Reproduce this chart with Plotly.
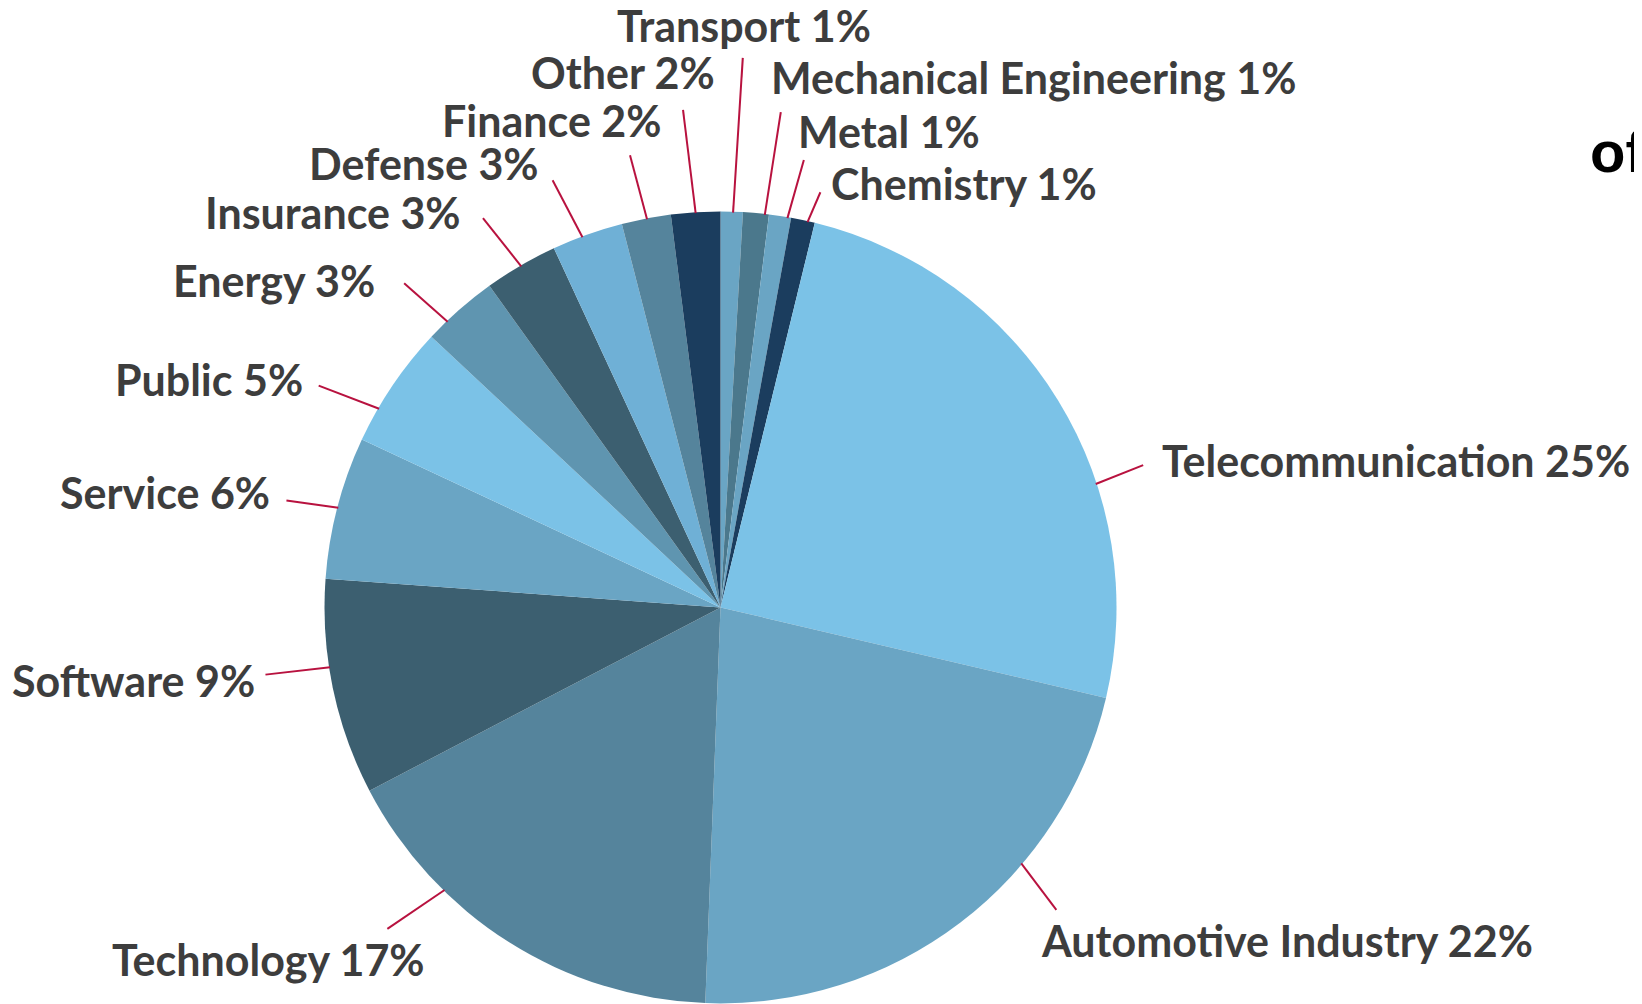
import math
import plotly.graph_objects as go

# slices, clockwise from 12 o'clock
labels = [
    "Transport", "Mechanical Engineering", "Metal", "Chemistry",
    "Telecommunication", "Automotive Industry", "Technology", "Software",
    "Service", "Public", "Energy", "Insurance", "Defense", "Finance", "Other",
]
shares = [0.9, 1.05, 0.9, 0.97, 24.8, 21.9, 16.7, 8.8, 5.8, 5.0, 3.1, 3.0, 2.9, 2.0, 2.0]
shown_pct = [1, 1, 1, 1, 25, 22, 17, 9, 6, 5, 3, 3, 3, 2, 2]

colors = [
    "#6aa5c4", "#4b788c", "#6aa5c4", "#1b3d5e", "#7bc2e7", "#6aa5c4",
    "#55849c", "#3c5f70", "#6aa5c4", "#7bc2e7", "#5f95b0", "#3c5f70",
    "#6fb0d6", "#55849c", "#1b3d5e",
]

W, H = 1642, 1004
PAGE_OFFSET = 8  # default body margin of the html page
CX, CY, R = 720.5, 607.4, 396
LINE_COLOR = "#b8123f"
TEXT_COLOR = "#3d3d3d"

# leader layout: inner/outer angle nudge (deg), outer radius, text dx, dy, anchor
leaders = {
    "Transport": (0.2, 0.7, 550, 1, -32, "center"),
    "Mechanical Engineering": (1.3, 1.8, 499, -12, -35, "left"),
    "Metal": (1.1, 1.9, 455, -8, -29, "left"),
    "Chemistry": (0.7, 1.5, 427, 9, -9, "left"),
    "Telecommunication": (13.3, 12.9, 446, 17, -5, "left"),
    "Automotive Industry": (-12.3, -10.7, 452, -17, 31, "left"),
    "Technology": (12.0, 13.7, 463, 40, 31, "right"),
    "Software": (3.0, 3.3, 460, -8, 6, "right"),
    "Service": (0.0, -0.8, 447, -14, -8, "right"),
    "Public": (-3.9, -5.2, 459, -14, -6, "right"),
    "Energy": (-2.4, -3.0, 453, -27, -3, "right"),
    "Insurance": (0.0, -1.1, 456, -20, -6, "right"),
    "Defense": (-0.8, -1.8, 459, -12, -17, "right"),
    "Finance": (0.1, -0.5, 461, 33, -35, "right"),
    "Other": (0.0, -0.7, 499, 34, -37, "right"),
}


def px(x, y):
    # page pixels -> paper coords
    return (x - PAGE_OFFSET) / W, 1 - (y - PAGE_OFFSET) / H


def polar(angle, r):
    a = math.radians(angle)
    return CX + r * math.sin(a), CY - r * math.cos(a)


left, top = px(CX - R, CY - R)
right, bottom = px(CX + R, CY + R)

fig = go.Figure(
    go.Pie(
        labels=labels,
        values=shares,
        sort=False,
        direction="clockwise",
        rotation=0,
        textinfo="none",
        hoverinfo="label+percent",
        marker=dict(colors=colors, line=dict(width=0)),
        domain=dict(x=[left, right], y=[bottom, top]),
        showlegend=False,
    )
)

total = sum(shares)
start = 0.0
shapes = []
annotations = []
for lab, val, pct in zip(labels, shares, shown_pct):
    span = val / total * 360
    n_in, n_out, r_out, dx, dy, anchor = leaders[lab]
    mid = start + span / 2
    start += span
    x0, y0 = polar(mid + n_in, R - 1)
    x1, y1 = polar(mid + n_out, r_out)
    p0, p1 = px(x0, y0), px(x1, y1)
    shapes.append(dict(
        type="line", xref="paper", yref="paper",
        x0=p0[0], y0=p0[1], x1=p1[0], y1=p1[1],
        line=dict(color=LINE_COLOR, width=2),
    ))
    tx, ty = px(x1 + dx, y1 + dy)
    annotations.append(dict(
        text=f"{lab} {pct}%", x=tx, y=ty, xref="paper", yref="paper",
        xanchor=anchor, yanchor="middle", showarrow=False,
        font=dict(family="Lato", size=43, color=TEXT_COLOR, weight="bold"),
    ))

# title cut off at the right edge
ox, oy = px(1588, 152)
annotations.append(dict(
    text="of", x=ox, y=oy, xref="paper", yref="paper",
    xanchor="left", yanchor="middle", showarrow=False,
    font=dict(family="Liberation Sans", size=58, color="#000000", weight="bold"),
))

fig.update_layout(
    width=W,
    height=H,
    margin=dict(l=0, r=0, t=0, b=0),
    paper_bgcolor="white",
    plot_bgcolor="white",
    shapes=shapes,
    annotations=annotations,
)

fig.write_html("out.html")
